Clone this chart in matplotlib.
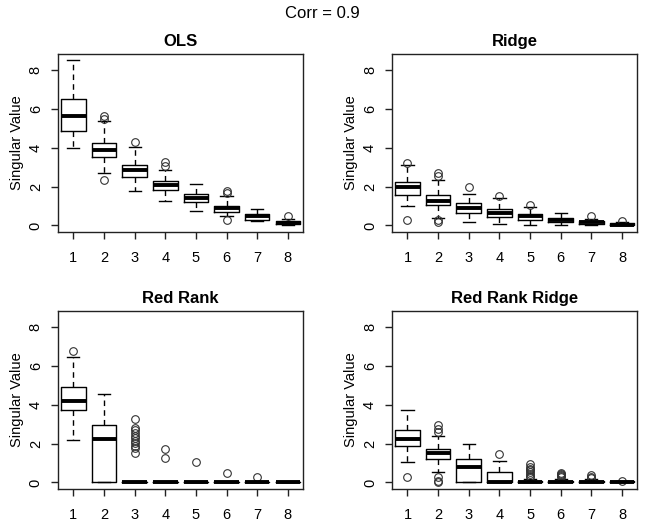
import matplotlib.pyplot as plt

plt.rcParams['font.family'] = ['Liberation Sans', 'DejaVu Sans']

components = [1, 2, 3, 4, 5, 6, 7, 8]
y_ticks = [0, 2, 4, 6, 8]
panel_titles = ['OLS', 'Ridge', 'Red Rank', 'Red Rank Ridge']

# (lower whisker, q1, median, q3, upper whisker) for each component
ols_box = [(3.98, 4.89, 5.66, 6.52, 8.54), (2.70, 3.51, 3.91, 4.23, 5.37),
           (1.79, 2.50, 2.86, 3.12, 4.06), (1.26, 1.81, 2.07, 2.27, 2.84),
           (0.76, 1.19, 1.43, 1.64, 2.15), (0.46, 0.71, 0.88, 1.02, 1.50),
           (0.21, 0.29, 0.46, 0.59, 0.84), (0.00, 0.05, 0.14, 0.21, 0.33)]
ols_out = [[], [5.63, 5.50, 2.34], [4.30], [3.29, 3.08], [], [1.79, 1.65, 0.28], [], [0.48]]

ridge_box = [(0.98, 1.58, 1.96, 2.22, 3.13), (0.38, 1.03, 1.27, 1.57, 2.36),
             (0.15, 0.64, 0.89, 1.15, 1.64), (0.09, 0.41, 0.64, 0.83, 1.43),
             (0.02, 0.29, 0.46, 0.59, 0.93), (0.00, 0.15, 0.28, 0.38, 0.62),
             (0.00, 0.07, 0.15, 0.24, 0.34), (0.00, 0.00, 0.03, 0.12, 0.15)]
ridge_out = [[3.22, 0.29], [2.70, 2.53, 0.29, 0.15], [1.96], [1.51], [1.07], [], [0.46], [0.21]]

rr_box = [(2.19, 3.72, 4.21, 4.93, 6.46), (0.00, 0.00, 2.23, 2.98, 4.54),
          (0.00, 0.00, 0.00, 0.00, 0.00), (0.00, 0.00, 0.00, 0.00, 0.00),
          (0.00, 0.00, 0.00, 0.00, 0.00), (0.00, 0.00, 0.00, 0.00, 0.00),
          (0.00, 0.00, 0.00, 0.00, 0.00), (0.00, 0.00, 0.00, 0.00, 0.00)]
rr_out = [[6.80], [],
          [3.29, 2.83, 2.71, 2.57, 2.40, 2.28, 2.14, 2.02, 1.88, 1.75, 1.54],
          [1.71, 1.27], [1.03], [0.48], [0.27], []]

rrr_box = [(1.03, 1.90, 2.26, 2.69, 3.76), (0.52, 1.22, 1.52, 1.74, 2.40),
           (0.00, 0.00, 0.79, 1.21, 2.00), (0.00, 0.00, 0.02, 0.52, 1.12),
           (0.00, 0.00, 0.02, 0.08, 0.18), (0.00, 0.00, 0.02, 0.08, 0.18),
           (0.00, 0.00, 0.02, 0.07, 0.16), (0.00, 0.00, 0.01, 0.05, 0.08)]
rrr_out = [[0.29], [2.98, 2.78, 2.62, 0.26, 0.05, 0.0], [], [1.48],
           [0.97, 0.78, 0.71, 0.62, 0.52, 0.43, 0.34, 0.26],
           [0.50, 0.45, 0.40, 0.35, 0.30], [0.38, 0.30, 0.25], [0.09]]


def draw_panel(ax, title, box, out):
    stats = []
    for b, o in zip(box, out):
        stats.append(dict(whislo=b[0], q1=b[1], med=b[2], q3=b[3], whishi=b[4], fliers=o))
    ax.bxp(stats, positions=components, widths=0.8, capwidths=0.4,
           boxprops=dict(color='black', lw=1),
           whiskerprops=dict(color='black', lw=1, linestyle=(0, (4, 3))),
           capprops=dict(color='black', lw=1),
           medianprops=dict(color='black', lw=2.8, solid_capstyle='butt'),
           flierprops=dict(marker='o', mfc='none', mec='#333333', ms=5.5, mew=0.8))
    ax.set_xlim(0.5, 8.5)
    ax.set_ylim(-0.34, 8.84)
    ax.set_xticks(components)
    ax.set_xticklabels([str(c) for c in components])
    ax.set_yticks(y_ticks)
    ax.set_yticklabels([str(t) for t in y_ticks], rotation=90, va='center')
    ax.tick_params(direction='out', length=5, width=1, labelsize=10.5, color='#222222')
    ax.tick_params(axis='x', pad=9)
    ax.tick_params(axis='y', pad=6)
    for s in ax.spines.values():
        s.set_linewidth(1)
        s.set_color('#222222')
    ax.set_title(title, fontsize=12, fontweight='bold', pad=5.5)
    ax.set_ylabel('Singular Value', fontsize=10.5)
    ax.yaxis.set_label_coords(-0.139, 0.5)


fig = plt.figure(figsize=(6.45, 5.27), dpi=100)
fig.suptitle('Corr = 0.9', fontsize=12, y=0.988)

lefts = [0.090, 0.608]
bottoms = [0.5598, 0.0721]
w = 0.380
h = 0.3377
axes = [fig.add_axes([lefts[0], bottoms[0], w, h]), fig.add_axes([lefts[1], bottoms[0], w, h]),
        fig.add_axes([lefts[0], bottoms[1], w, h]), fig.add_axes([lefts[1], bottoms[1], w, h])]

draw_panel(axes[0], panel_titles[0], ols_box, ols_out)
draw_panel(axes[1], panel_titles[1], ridge_box, ridge_out)
draw_panel(axes[2], panel_titles[2], rr_box, rr_out)
draw_panel(axes[3], panel_titles[3], rrr_box, rrr_out)

fig.savefig('out.png', dpi=100)
plt.close()
